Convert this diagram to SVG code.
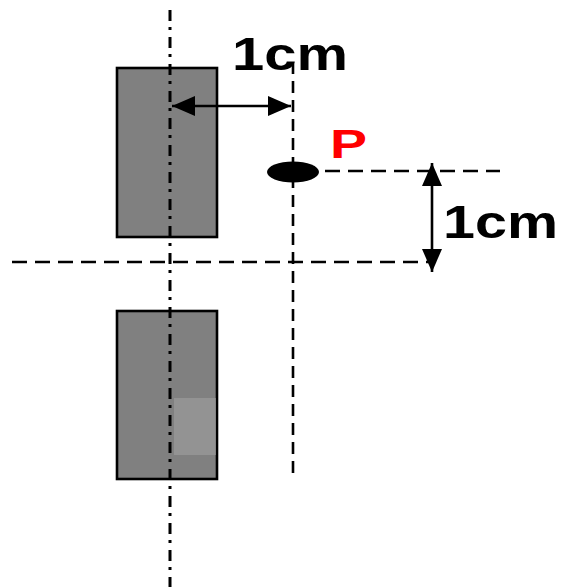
<svg xmlns="http://www.w3.org/2000/svg" width="562" height="587" viewBox="0 0 562 587">
<defs>
<style>
.bar{fill:#808080;stroke:#000;stroke-width:2.6}
.axis{stroke:#000;stroke-width:3;fill:none;stroke-dasharray:11 6 3 7}
.dash{stroke:#000;stroke-width:2.6;fill:none;stroke-dasharray:15 8}
.vdash{stroke:#000;stroke-width:2.6;fill:none;stroke-dasharray:12 7}
.dim{stroke:#000;stroke-width:2.6;fill:none}
.lbl{font-family:"Liberation Sans",Arial,sans-serif;font-weight:bold;font-size:46px;fill:#000}
.p{font-family:"Liberation Sans",Arial,sans-serif;font-weight:bold;font-size:41px;fill:#ff0000}
</style>
<marker id="ah" markerUnits="userSpaceOnUse" markerWidth="26" markerHeight="22" refX="23" refY="11" orient="auto-start-reverse">
<path d="M0,1 L23,11 L0,21 Z" fill="#000"/>
</marker>
</defs>
<g id="bar-top"><rect class="bar" x="117" y="68" width="100" height="169"/></g>
<g id="bar-bottom"><rect class="bar" x="117" y="311" width="100" height="168"/><rect x="174" y="398" width="41.7" height="57" fill="#939393"/></g>
<g id="connectors">
<line class="axis" x1="170" y1="10" x2="170" y2="587"/>
<line class="vdash" x1="293" y1="62" x2="293" y2="479"/>
<line class="dash" x1="12" y1="262" x2="432" y2="262"/>
<line class="dash" x1="325" y1="171" x2="500" y2="171"/>
<line class="dim" x1="172" y1="106" x2="291" y2="106" marker-start="url(#ah)" marker-end="url(#ah)"/>
<line class="dim" x1="432" y1="163" x2="432" y2="272" marker-start="url(#ah)" marker-end="url(#ah)"/>
</g>
<g id="point-P"><ellipse cx="293" cy="172" rx="26" ry="10.5" fill="#000"/><text class="p" x="330" y="158" textLength="37" lengthAdjust="spacingAndGlyphs">P</text></g>
<g id="label-h"><text class="lbl" x="232" y="70" textLength="116" lengthAdjust="spacingAndGlyphs">1cm</text></g>
<g id="label-v"><text class="lbl" x="443" y="238" textLength="115" lengthAdjust="spacingAndGlyphs">1cm</text></g>
</svg>
